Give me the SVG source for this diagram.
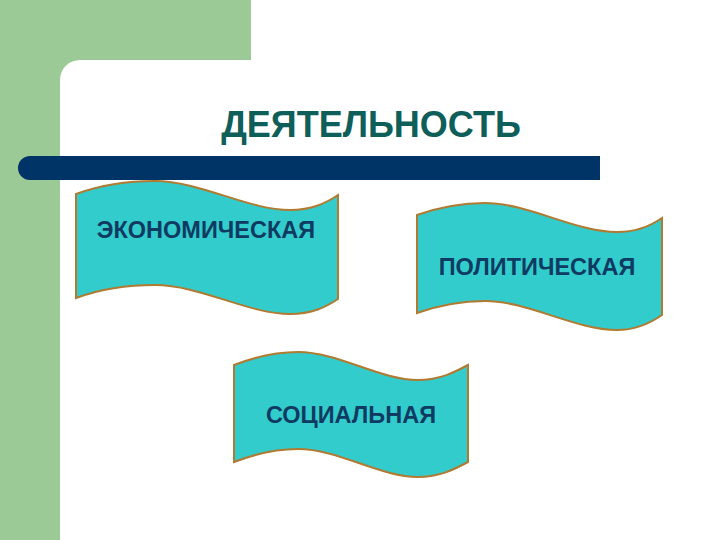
<svg xmlns="http://www.w3.org/2000/svg" width="720" height="540" viewBox="0 0 720 540">
  <style>
    .banner { fill: #33cccc; stroke: #b07a30; stroke-width: 2; }
    .blabel { font-family: "Liberation Sans", Arial, sans-serif; font-weight: bold; font-size: 23.5px; fill: #0f3a62; text-anchor: middle; }
    .title { font-family: "Liberation Sans", Arial, sans-serif; font-weight: bold; font-size: 36px; fill: #0e5e5a; text-anchor: middle; }
  </style>
  <rect x="0" y="0" width="720" height="540" fill="#ffffff"/>
  <g id="background">
    <path d="M0,0 H251 V60 H80 A20,20 0 0 0 60,80 V540 H0 Z" fill="#9bca96"/>
    <path d="M30,156 H600 V180 H30 A12,12 0 0 1 30,156 Z" fill="#003366"/>
  </g>
  <g id="title">
    <text class="title" x="371" y="137">ДЕЯТЕЛЬНОСТЬ</text>
  </g>
  <g id="economic">
    <path class="banner" d="M76,194 C98,186 125,181 155,181 C200,181 248,210 290,210 C312,210 326,203 338,195 V299 C326,307 312,314 290,314 C248,314 200,285 155,285 C125,285 98,290 76,298 Z"/>
    <text class="blabel" x="206" y="238">ЭКОНОМИЧЕСКАЯ</text>
  </g>
  <g id="political">
    <path class="banner" d="M417,215 C440,207 460,203 485,203 C528,203 575,232 617,232 C637,232 652,225 662,218 V315 C652,322 637,330 617,330 C575,330 528,301 485,301 C460,301 440,305 417,313 Z"/>
    <text class="blabel" x="537" y="275">ПОЛИТИЧЕСКАЯ</text>
  </g>
  <g id="social">
    <path class="banner" d="M234,365 C255,357 275,352 298,352 C338,352 380,380 418,380 C440,380 455,372 468,365 V462 C455,469 440,477 418,477 C380,477 338,449 298,449 C275,449 255,454 234,462 Z"/>
    <text class="blabel" x="351" y="423">СОЦИАЛЬНАЯ</text>
  </g>
  <g id="connectors"></g>
</svg>
